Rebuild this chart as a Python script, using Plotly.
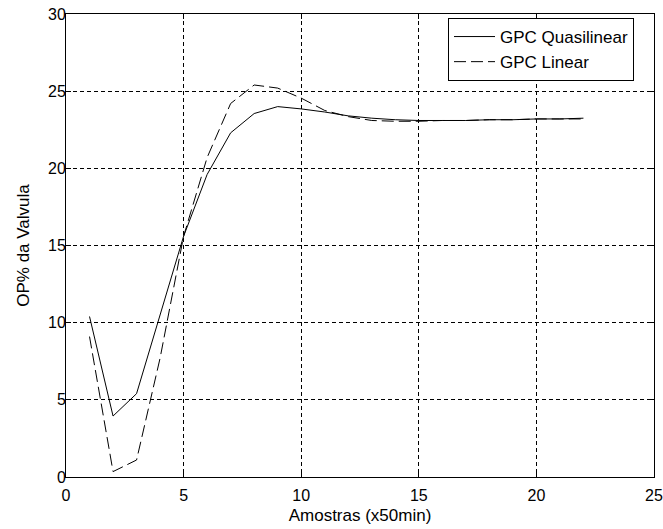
import plotly.graph_objects as go

amostras = list(range(1, 23))
gpc_quasilinear = [10.4, 3.95, 5.4, 10.5, 15.6, 19.6, 22.3, 23.55, 24.0, 23.85,
                   23.65, 23.4, 23.25, 23.15, 23.1, 23.1, 23.1, 23.15, 23.15, 23.2,
                   23.2, 23.25]
gpc_linear = [9.1, 0.35, 1.1, 7.7, 15.6, 20.7, 24.2, 25.4, 25.2, 24.55,
              23.75, 23.35, 23.1, 23.05, 23.05, 23.1, 23.1, 23.15, 23.15, 23.2,
              23.2, 23.2]
x_ticks = [0, 5, 10, 15, 20, 25]
y_ticks = [0, 5, 10, 15, 20, 25, 30]

FONT = "Liberation Sans, Arial, sans-serif"

fig = go.Figure()
fig.add_trace(go.Scatter(x=amostras, y=gpc_quasilinear, mode="lines",
                         name="GPC Quasilinear",
                         line=dict(color="black", width=1)))
fig.add_trace(go.Scatter(x=amostras, y=gpc_linear, mode="lines",
                         name="GPC Linear",
                         line=dict(color="black", width=1, dash="12px,5px")))

axis_common = dict(
    showline=True, linecolor="black", linewidth=1, mirror="ticks",
    showgrid=True, gridcolor="black", gridwidth=1, griddash="4px,3px",
    zeroline=False, ticks="inside", ticklen=5, tickcolor="black",
    tickfont=dict(family=FONT, size=16, color="black"),
    automargin=False,
)

fig.update_layout(
    width=663, height=529,
    margin=dict(l=66, r=9, t=14, b=52),
    paper_bgcolor="white", plot_bgcolor="white",
    font=dict(family=FONT, size=16, color="black"),
    xaxis=dict(range=[0, 25], tickvals=x_ticks, ticklabelstandoff=4,
               title=dict(text="Amostras (x50min)", standoff=5,
                          font=dict(family=FONT, size=17)),
               **axis_common),
    yaxis=dict(range=[0, 30], tickvals=y_ticks, ticklabelstandoff=-4,
               title=dict(text="OP% da Valvula", standoff=14,
                          font=dict(family=FONT, size=17)),
               **axis_common),
    legend=dict(x=(448 - 66) / 588, y=(477 - 18) / 463,
                xanchor="left", yanchor="top", itemwidth=41,
                bgcolor="white", bordercolor="black", borderwidth=1,
                font=dict(family=FONT, size=17), tracegroupgap=0),
    showlegend=True,
)

fig.write_html("out.html",
               config={"displayModeBar": False},
               post_script="document.body.style.margin='0';")
